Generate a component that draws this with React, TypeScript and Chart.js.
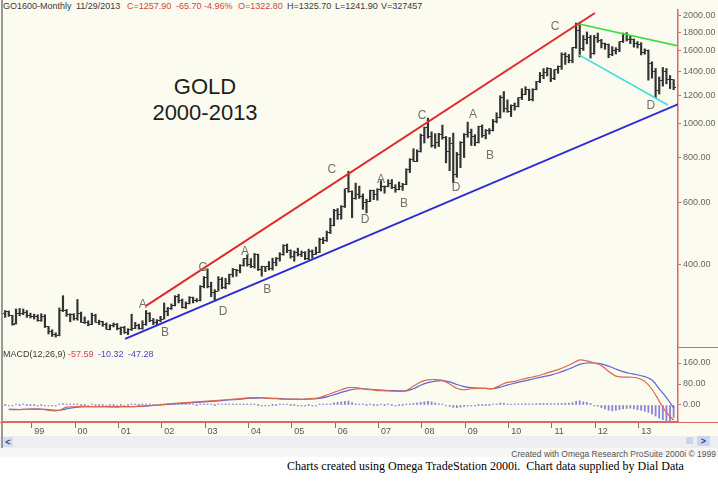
import React, { useEffect, useRef } from "react";
import { Chart, registerables } from "chart.js";
Chart.register(...registerables);

// month index: Jan 1999 = 0 ; first bar is Jun 1998
const FIRST_MONTH = -7;
const MACD_FIRST_MONTH = -6;
const MACD_STEP = 2;
const X_MIN = -7.6;
const X_MAX = 179.2;

const opens = [
  293, 296, 288, 274, 293, 292, 294,
  288, 287, 287, 279, 286, 268, 261, 255, 254, 299, 299, 291,
  290, 283, 293, 276, 275, 272, 288, 276, 277, 273, 264, 270,
  272, 265, 267, 258, 263, 265, 270, 265, 273, 293, 279, 275,
  279, 282, 297, 302, 308, 326, 318, 304, 312, 324, 317, 318,
  347, 368, 347, 334, 338, 364, 346, 354, 375, 388, 386, 398,
  416, 400, 396, 427, 388, 395, 395, 391, 407, 418, 428, 453,
  438, 422, 434, 429, 435, 417, 437, 429, 433, 473, 470, 495,
  517, 568, 556, 582, 654, 643, 614, 632, 623, 599, 604, 646,
  632, 650, 665, 663, 679, 659, 650, 666, 672, 743, 789, 783,
  834, 923, 971, 916, 865, 885, 930, 913, 833, 880, 718, 815,
  882, 928, 942, 916, 883, 980, 926, 954, 955, 1008, 1040, 1182,
  1097, 1081, 1118, 1113, 1180, 1207, 1244, 1169, 1247, 1308, 1357, 1386,
  1421, 1333, 1411, 1439, 1556, 1536, 1500, 1628, 1825, 1620, 1722, 1746,
  1566, 1740, 1711, 1669, 1664, 1560, 1604, 1614, 1692, 1773, 1719, 1713,
  1675, 1663, 1578, 1595, 1472, 1393, 1234, 1314, 1396, 1327, 1322.8,
];
const highs = [
  298, 297, 289, 301, 302, 301, 298,
  293, 291, 290, 292, 290, 269, 263, 258, 303, 328, 300, 292,
  292, 320, 295, 286, 279, 293, 291, 280, 278, 275, 272, 275,
  274, 268, 269, 265, 291, 276, 273, 279, 298, 294, 283, 281,
  287, 313, 304, 311, 328, 331, 321, 315, 326, 325, 322, 350,
  371, 390, 358, 341, 371, 369, 367, 377, 391, 389, 401, 417,
  427, 417, 431, 429, 397, 396, 409, 418, 420, 433, 456, 458,
  441, 438, 446, 438, 436, 443, 441, 449, 476, 478, 498, 541,
  573, 576, 587, 654, 733, 646, 679, 666, 633, 612, 649, 649,
  655, 690, 667, 694, 695, 672, 684, 678, 745, 795, 848, 842,
  932, 975, 1033, 946, 935, 937, 988, 918, 912, 938, 828, 888,
  935, 1007, 963, 929, 981, 989, 960, 966, 1025, 1070, 1195, 1227,
  1163, 1126, 1140, 1180, 1250, 1266, 1246, 1250, 1310, 1388, 1424, 1432,
  1424, 1415, 1448, 1576, 1577, 1560, 1632, 1911, 1923, 1763, 1804, 1764,
  1764, 1791, 1720, 1679, 1669, 1641, 1630, 1694, 1791, 1796, 1755, 1724,
  1696, 1683, 1617, 1605, 1488, 1425, 1348, 1434, 1424, 1361, 1325.7,
];
const lows = [
  285, 287, 271, 273, 288, 290, 285,
  284, 282, 278, 278, 267, 256, 252, 251, 253, 296, 287, 277,
  280, 280, 276, 274, 270, 272, 276, 272, 269, 264, 263, 268,
  263, 255, 257, 255, 262, 265, 264, 264, 271, 277, 272, 272,
  277, 282, 288, 300, 307, 313, 303, 302, 311, 313, 315, 317,
  345, 345, 326, 319, 338, 343, 343, 353, 370, 372, 380, 397,
  397, 393, 392, 386, 372, 383, 387, 387, 398, 410, 426, 433,
  418, 410, 424, 422, 414, 414, 418, 428, 433, 459, 466, 490,
  515, 537, 538, 580, 640, 543, 612, 615, 573, 560, 602, 610,
  608, 645, 636, 663, 655, 640, 650, 648, 672, 727, 781, 780,
  830, 880, 908, 857, 851, 860, 902, 774, 736, 681, 705, 750,
  801, 913, 866, 865, 880, 913, 904, 932, 951, 1003, 1034, 1075,
  1073, 1044, 1088, 1111, 1165, 1202, 1157, 1155, 1241, 1300, 1333, 1357,
  1308, 1325, 1380, 1416, 1462, 1478, 1478, 1623, 1535, 1600, 1670, 1523,
  1562, 1686, 1627, 1613, 1527, 1547, 1565, 1588, 1685, 1701, 1672, 1635,
  1626, 1555, 1562, 1321, 1338, 1180, 1208, 1271, 1290, 1251, 1241.9,
];
const closes = [
  296, 288, 273, 293, 292, 294, 288,
  287, 287, 279, 286, 268, 261, 255, 254, 299, 299, 291, 290,
  283, 293, 276, 275, 272, 288, 276, 277, 273, 264, 270, 272,
  265, 267, 258, 263, 265, 270, 265, 273, 293, 279, 275, 279,
  282, 297, 302, 308, 326, 318, 304, 312, 324, 317, 318, 347,
  368, 347, 334, 338, 364, 346, 354, 375, 388, 386, 398, 416,
  400, 396, 427, 388, 395, 395, 391, 407, 418, 428, 453, 438,
  422, 434, 429, 435, 417, 437, 429, 433, 473, 470, 495, 517,
  568, 556, 582, 654, 643, 614, 632, 623, 599, 604, 646, 632,
  650, 665, 663, 679, 659, 650, 666, 672, 743, 789, 783, 834,
  923, 971, 916, 865, 885, 930, 913, 833, 880, 718, 815, 882,
  928, 942, 916, 883, 980, 926, 954, 955, 1008, 1040, 1182, 1097,
  1081, 1118, 1113, 1180, 1207, 1244, 1169, 1247, 1308, 1357, 1386, 1421,
  1333, 1411, 1439, 1556, 1536, 1500, 1628, 1825, 1620, 1722, 1746, 1566,
  1740, 1711, 1669, 1664, 1560, 1604, 1614, 1692, 1773, 1719, 1713, 1675,
  1663, 1578, 1595, 1472, 1393, 1234, 1314, 1396, 1327, 1323, 1257.9,
];

// MACD(12,26,9), read every second month
const macdLine = [
  -18, -18, -17, -16, -16, -18, -22, -20, -8, -7,
  -5, -6, -6, -6, -7, -7, -6, -6, -5, -3,
  -1, 1, 4, 6, 8, 10, 12, 14, 16, 18,
  20, 22, 24, 27, 28, 28, 25, 24, 22, 22,
  22, 22, 24, 28, 38, 48, 58, 66, 66, 62,
  58, 55, 54, 53, 52, 55, 72, 88, 96, 97,
  94, 80, 64, 58, 62, 63, 63, 62, 75, 86,
  90, 98, 104, 110, 118, 126, 135, 146, 158, 172,
  168, 160, 150, 128, 110, 106, 106, 103, 90, 60,
  15, -28, -57.59,
];
const signalLine = [
  -16, -17, -17, -16, -16, -17, -19, -20, -15, -10,
  -7, -6, -6, -6, -6, -7, -6, -6, -5, -4,
  -2, 0, 2, 4, 6, 8, 10, 12, 14, 16,
  18, 20, 22, 25, 26, 27, 26, 25, 23, 22,
  22, 22, 23, 25, 31, 39, 48, 56, 61, 62,
  60, 58, 56, 55, 54, 54, 62, 75, 85, 91,
  93, 88, 78, 70, 66, 64, 63, 62, 68, 76,
  83, 90, 96, 102, 108, 114, 122, 132, 143, 155,
  160, 160, 157, 148, 137, 127, 120, 115, 108, 95,
  62, 28, -10.32,
];
// MACD histogram, monthly
const macdHist = [
  0, -1, -1, 1, 0, 1, 0,
  0, 0, -1, 0, -1, -2, -2, -2, 2, 5, 3, 2,
  1, 2, 0, 0, -1, 1, 0, 0, 0, -1, 0, 0,
  -1, 0, -1, 0, 1, 1, 0, 1, 2, 1, 0, 0,
  1, 2, 2, 2, 3, 2, 1, 1, 1, 1, 0, 2,
  3, 2, 1, 0, 1, 1, 1, 1, 2, 2, 2, 3,
  2, 1, 2, 0, -1, -1, -1, 0, 0, 1, 2, 1,
  0, 0, -1, -1, -1, 0, -1, -1, 1, 1, 2, 4,
  8, 10, 12, 14, 15, 9, 5, 3, 1, 0, 1, 0,
  0, 1, 0, 1, 0, -1, 0, 0, 2, 4, 6, 8,
  10, 12, 14, 12, 8, 5, 3, -2, -5, -9, -10, -8,
  -6, -4, -3, -3, 0, 0, 0, 0, 2, 4, 8, 7,
  3, 3, 3, 4, 4, 5, 4, 4, 5, 6, 6, 6,
  5, 5, 5, 6, 7, 7, 9, 14, 16, 12, 10, 6,
  -2, -5, -10, -15, -20, -22, -20, -18, -15, -13, -12, -14,
  -18, -20, -24, -28, -34, -42, -50, -56, -60, -62, -47.28,
];

const priceTicks = [400, 600, 800, 1000, 1200, 1400, 1600, 1800, 2000];
const macdTicks = [0, 80, 160];
const yearLabels = ["99", "00", "01", "02", "03", "04", "05", "06", "07", "08", "09", "10", "11", "12", "13"];
const YEAR_TICK_OFFSET = 0.33;

// trendlines: [month index, price]
const redTrend = [[31.97, 307], [156.2, 2039]];
const blueTrend = [[26.2, 248], [179.35, 1132]];
const greenTrend = [[151.8, 1899], [179.35, 1647]];
const cyanTrend = [[151.8, 1555], [176.4, 1125]];

const waveLabels = ["A", "B", "C", "D", "A", "B", "C", "D", "A", "B", "C", "D", "A", "B", "C", "D"];
const waveMonths = [31.1, 37.2, 47.7, 53.3, 59.4, 65.5, 83.4, 92.6, 97.0, 103.4, 108.4, 117.8, 122.5, 127.2, 145.2, 171.7];
const wavePrices = [309, 259, 392, 295, 435, 340, 739, 535, 693, 593, 1048, 658, 1055, 809, 1863, 1118];

const SANS = '"Liberation Sans", Arial, sans-serif';
const AXIS_RED = "#d9686a";
const TXT_RED = "#d2453f";
const TXT_BLUE = "#4a4ac8";
const TXT_DARK = "#3a3a3a";

const headerItems: [string, number, string][] = [
  ["GO1600-Monthly", 3, TXT_DARK],
  ["11/29/2013", 76, TXT_DARK],
  ["C=1257.90", 127, TXT_RED],
  ["-65.70", 176, TXT_RED],
  ["-4.96%", 204, TXT_RED],
  ["O=1322.80", 238, TXT_RED],
  ["H=1325.70", 287, TXT_DARK],
  ["L=1241.90", 335, TXT_DARK],
  ["V=327457", 381, TXT_DARK],
];
const macdItems: [string, number, string][] = [
  ["MACD(12,26,9)", 3, TXT_DARK],
  ["-57.59", 68, TXT_RED],
  ["-10.32", 98, TXT_BLUE],
  ["-47.28", 128, TXT_BLUE],
];

function tickImage(side: "open" | "close") {
  const c = document.createElement("canvas");
  c.width = 5;
  c.height = 1;
  const g = c.getContext("2d")!;
  g.fillStyle = "#333";
  g.fillRect(side === "open" ? 0 : 3, 0, 2, 1);
  return c;
}

const trendDs = (pts: number[][], color: string, w: number) => ({
  type: "line" as const,
  data: pts.map((p) => ({ x: p[0], y: p[1] })),
  borderColor: color,
  borderWidth: w,
  pointRadius: 0,
  order: 0,
});

const noPadY = (s: any) => {
  s.width = 40;
  s.paddingTop = 0;
  s.paddingBottom = 0;
};

export default function App() {
  const priceRef = useRef<HTMLCanvasElement>(null);
  const macdRef = useRef<HTMLCanvasElement>(null);

  useEffect(() => {
    const letters = {
      id: "waveLetters",
      afterDatasetsDraw(chart: any) {
        const { ctx, scales } = chart;
        ctx.save();
        ctx.font = `12px ${SANS}`;
        ctx.fillStyle = "#707070";
        ctx.textAlign = "center";
        ctx.textBaseline = "middle";
        waveLabels.forEach((l, i) => {
          ctx.fillText(l, scales.x.getPixelForValue(waveMonths[i]), scales.y.getPixelForValue(wavePrices[i]));
        });
        ctx.restore();
      },
    };

    const priceChart = new Chart(priceRef.current!, {
      type: "bar",
      data: {
        datasets: [
          trendDs(redTrend, "#e02a2a", 2),
          trendDs(blueTrend, "#2b2bd6", 2),
          trendDs(greenTrend, "#3ade3a", 1.6),
          trendDs(cyanTrend, "#3adede", 1.6),
          {
            type: "line",
            showLine: false,
            data: opens.map((v, i) => ({ x: FIRST_MONTH + i, y: v })),
            pointStyle: tickImage("open") as any,
            pointRadius: 1,
            order: 2,
          },
          {
            type: "line",
            showLine: false,
            data: closes.map((v, i) => ({ x: FIRST_MONTH + i, y: v })),
            pointStyle: tickImage("close") as any,
            pointRadius: 1,
            order: 2,
          },
          {
            type: "bar",
            data: highs.map((h, i) => ({ x: FIRST_MONTH + i, y: [lows[i], h] })) as any,
            backgroundColor: "#333",
            barThickness: 1.5,
            order: 3,
          },
        ] as any,
      },
      options: {
        responsive: false,
        animation: false,
        layout: { autoPadding: false, padding: { top: 10, left: 3, right: 0, bottom: 0 } },
        plugins: { legend: { display: false }, tooltip: { enabled: false } },
        scales: {
          x: { type: "linear", min: X_MIN, max: X_MAX, offset: false, display: false, grid: { offset: false } },
          y: {
            type: "logarithmic",
            position: "right",
            min: 235.4,
            max: 2079,
            afterBuildTicks: (s: any) => {
              s.ticks = priceTicks.map((v) => ({ value: v }));
            },
            afterFit: noPadY,
            ticks: {
              autoSkip: false,
              callback: (v: any) => Number(v).toFixed(2),
              font: { family: SANS, size: 9 },
              color: "#666",
              padding: 2,
            },
            grid: { drawOnChartArea: false, drawTicks: true, tickLength: 3, color: AXIS_RED },
            border: { display: true, color: AXIS_RED, width: 1.5 },
          },
        },
      } as any,
      plugins: [letters],
    });

    const macdChart = new Chart(macdRef.current!, {
      type: "bar",
      data: {
        datasets: [
          {
            type: "line",
            data: macdLine.map((v, i) => ({ x: MACD_FIRST_MONTH + MACD_STEP * i, y: v })),
            borderColor: "#e0664c",
            borderWidth: 1.2,
            pointRadius: 0,
            tension: 0.3,
            order: 0,
          },
          {
            type: "line",
            data: signalLine.map((v, i) => ({ x: MACD_FIRST_MONTH + MACD_STEP * i, y: v })),
            borderColor: "#5c66d4",
            borderWidth: 1.2,
            pointRadius: 0,
            tension: 0.3,
            order: 1,
          },
          {
            type: "bar",
            data: macdHist.map((v, i) => ({ x: FIRST_MONTH + i, y: v })),
            backgroundColor: "#8c84d8",
            barThickness: 1.2,
            minBarLength: 1,
            order: 2,
          },
        ] as any,
      },
      options: {
        responsive: false,
        animation: false,
        layout: { autoPadding: false, padding: { top: 0, left: 3, right: 0, bottom: 0 } },
        plugins: { legend: { display: false }, tooltip: { enabled: false } },
        scales: {
          x: {
            type: "linear",
            min: X_MIN,
            max: X_MAX,
            offset: false,
            position: "bottom",
            afterBuildTicks: (s: any) => {
              s.ticks = yearLabels.map((_, i) => ({ value: i * 12 + YEAR_TICK_OFFSET }));
            },
            afterFit: (s: any) => {
              s.height = 14;
              s.paddingLeft = 0;
              s.paddingRight = 0;
            },
            ticks: {
              autoSkip: false,
              maxRotation: 0,
              align: "start",
              callback: (_v: any, i: number) => " " + yearLabels[i],
              font: { family: SANS, size: 9 },
              color: "#555",
              padding: -2,
            },
            grid: { offset: false, drawOnChartArea: false, drawTicks: true, tickLength: 6, color: "#9a6a6a" },
            border: { display: true, color: AXIS_RED, width: 1.5 },
          },
          y: {
            type: "linear",
            position: "right",
            min: -64.8,
            max: 221,
            afterBuildTicks: (s: any) => {
              s.ticks = macdTicks.map((v) => ({ value: v }));
            },
            afterFit: noPadY,
            ticks: {
              autoSkip: false,
              callback: (v: any) => Number(v).toFixed(2),
              font: { family: SANS, size: 9 },
              color: "#666",
              padding: 2,
            },
            grid: { drawOnChartArea: false, drawTicks: true, tickLength: 3, color: AXIS_RED },
            border: { display: true, color: AXIS_RED, width: 1.5 },
          },
        },
      } as any,
    });

    return () => {
      priceChart.destroy();
      macdChart.destroy();
    };
  }, []);

  const txt = (items: [string, number, string][], top: number) =>
    items.map(([t, x, c], i) => (
      <div
        key={t + i}
        style={{ position: "absolute", left: x, top, fontFamily: SANS, fontSize: 9, lineHeight: "11px", color: c, whiteSpace: "nowrap" }}
      >
        {t}
      </div>
    ));

  return (
    <div style={{ position: "absolute", left: 0, top: 0, width: 718, height: 484, background: "#fff", overflow: "hidden" }}>
      <div style={{ position: "absolute", left: 0, top: 0, width: 718, height: 436, background: "#fcfbf0" }} />
      <div style={{ position: "absolute", left: 0, top: 436, width: 718, height: 12, background: "#eceef2" }} />
      <div style={{ position: "absolute", left: 0, top: 448, width: 718, height: 9, background: "#f7f7f7" }} />
      <div style={{ position: "absolute", left: 1, top: 0, width: 1.5, height: 448, background: "#9a9a9a" }} />
      {txt(headerItems, 1)}
      <div style={{ position: "absolute", left: 105, top: 74, width: 200, textAlign: "center", fontFamily: SANS, fontSize: 22, lineHeight: "26px", color: "#1e1e1e" }}>
        GOLD
      </div>
      <div style={{ position: "absolute", left: 105, top: 100, width: 200, textAlign: "center", fontFamily: SANS, fontSize: 22, lineHeight: "26px", color: "#1e1e1e" }}>
        2000-2013
      </div>
      <canvas ref={priceRef} width={718} height={347} style={{ position: "absolute", left: 0, top: 0, display: "block" }} />
      <canvas ref={macdRef} width={718} height={89} style={{ position: "absolute", left: 0, top: 347, display: "block" }} />
      {txt(macdItems, 349)}
      <div style={{ position: "absolute", left: 678, top: 346.5, width: 40, height: 1.5, background: AXIS_RED }} />
      <div style={{ position: "absolute", left: 0, top: 421.5, width: 718, height: 1.5, background: AXIS_RED }} />
      <div style={{ position: "absolute", left: 3, top: 437, width: 10, height: 10, background: "#d6def0", color: "#2a3f8a", fontFamily: SANS, fontSize: 9, lineHeight: "10px", textAlign: "center", fontWeight: "bold" }}>
        &lt;
      </div>
      <div style={{ position: "absolute", left: 686, top: 437, width: 7, height: 7, background: "#cbd6ec" }} />
      <div style={{ position: "absolute", left: 697, top: 436, width: 13, height: 10, background: "#cbd6ec", color: "#2a3f8a", fontFamily: SANS, fontSize: 9, lineHeight: "10px", textAlign: "center", fontWeight: "bold" }}>
        &gt;
      </div>
      <div style={{ position: "absolute", right: 2, top: 449, fontFamily: SANS, fontSize: 8.5, lineHeight: "10px", color: "#555", whiteSpace: "nowrap" }}>
        Created with Omega Research ProSuite 2000i © 1999
      </div>
      <div style={{ position: "absolute", left: 287, top: 459, fontFamily: '"Liberation Serif", "Times New Roman", serif', fontSize: 12, lineHeight: "14px", color: "#000", whiteSpace: "nowrap" }}>
        Charts created using Omega TradeStation 2000i.&nbsp; Chart data supplied by Dial Data
      </div>
    </div>
  );
}
